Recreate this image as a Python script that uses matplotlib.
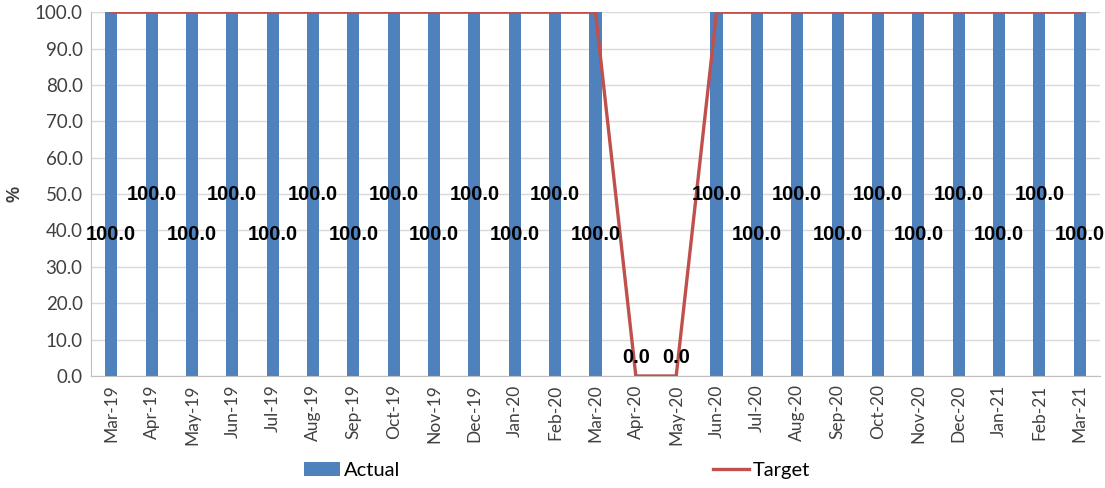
import matplotlib.pyplot as plt
import numpy as np

months = ["Mar-19", "Apr-19", "May-19", "Jun-19", "Jul-19", "Aug-19", "Sep-19", "Oct-19",
          "Nov-19", "Dec-19", "Jan-20", "Feb-20", "Mar-20", "Apr-20", "May-20", "Jun-20",
          "Jul-20", "Aug-20", "Sep-20", "Oct-20", "Nov-20", "Dec-20", "Jan-21", "Feb-21", "Mar-21"]
actual = [100.0, 100.0, 100.0, 100.0, 100.0, 100.0, 100.0, 100.0, 100.0, 100.0, 100.0, 100.0,
          100.0, 0.0, 0.0, 100.0, 100.0, 100.0, 100.0, 100.0, 100.0, 100.0, 100.0, 100.0, 100.0]
target = [100.0, 100.0, 100.0, 100.0, 100.0, 100.0, 100.0, 100.0, 100.0, 100.0, 100.0, 100.0,
          100.0, 0.0, 0.0, 100.0, 100.0, 100.0, 100.0, 100.0, 100.0, 100.0, 100.0, 100.0, 100.0]

bar_blue = "#4F81BD"
line_red = "#C0504D"

fig = plt.figure(figsize=(11.05, 4.88), dpi=100)
ax = fig.add_axes([0.0824, 0.2295, 0.913, 0.7455])

x = np.arange(len(months))
bars = ax.bar(x, actual, width=0.3, color=bar_blue, zorder=2)
line, = ax.plot(x, target, color=line_red, linewidth=2.4, zorder=3)

# staggered value labels so neighbours don't collide
for i, v in enumerate(actual):
    if v == 0:
        ly = v + 5
    else:
        ly = 39 if i % 2 == 0 else 50
    ax.text(x[i], ly, f"{v:.1f}", ha="center", va="center", fontsize=14.5,
            fontweight="bold", family="Liberation Sans", color="black", zorder=4)

ax.set_xlim(-0.5, len(months) - 0.5)
ax.set_ylim(0, 100)
ax.set_yticks(np.arange(0, 101, 10))
ax.set_yticklabels([f"{t:.1f}" for t in np.arange(0, 101, 10)], family="Lato", fontsize=13.5, color="#404040")
ax.set_xticks(x)
ax.set_xticklabels(months, rotation=90, family="Lato", fontsize=12.5, color="#404040")
ax.tick_params(axis="both", length=0, pad=6)
ax.set_ylabel("%", family="Liberation Sans", fontsize=13, fontweight="bold", color="#404040", labelpad=8)

ax.yaxis.grid(True, color="#D9D9D9", linewidth=1, zorder=0)
ax.set_axisbelow(True)
for side in ["top", "right"]:
    ax.spines[side].set_visible(False)
ax.spines["left"].set_color("#BFBFBF")
ax.spines["bottom"].set_color("#BFBFBF")

fig.legend([bars, line], ["Actual", "Target"], loc="center", bbox_to_anchor=(0.504, 0.035),
           ncol=2, frameon=False, columnspacing=15.5, handlelength=1.8, handletextpad=0.2,
           prop={"family": "Lato", "size": 14.5})

fig.savefig("out.png", dpi=100)
